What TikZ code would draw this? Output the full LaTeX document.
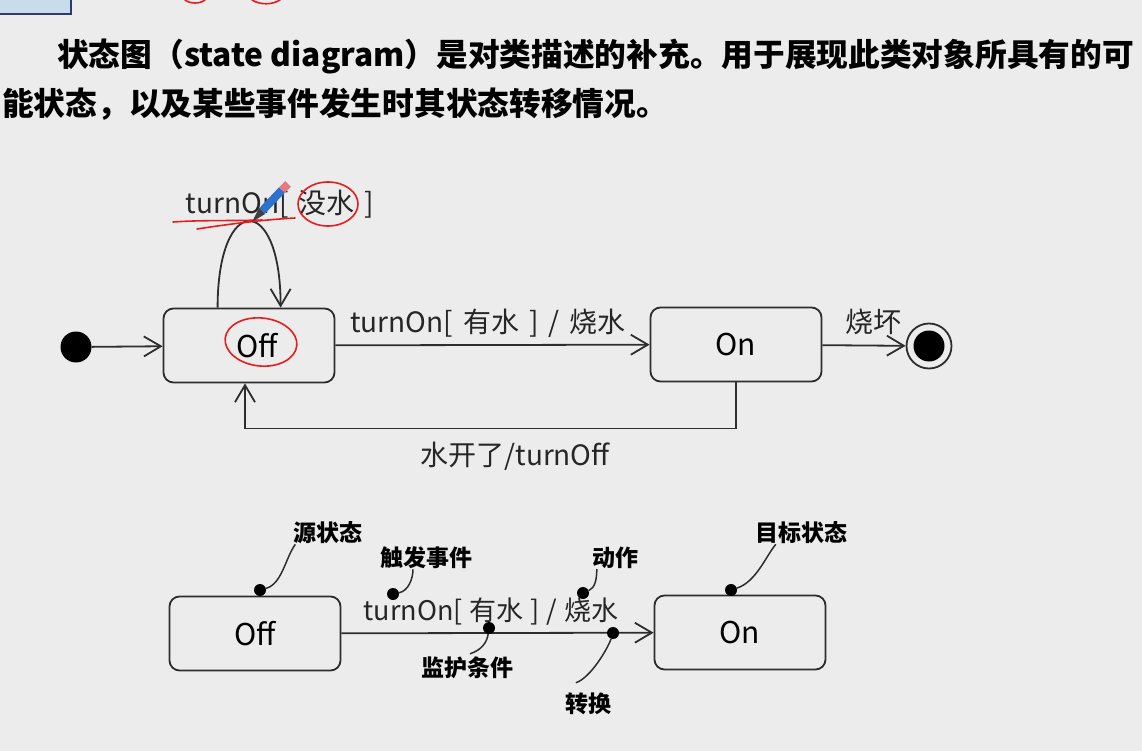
\documentclass[tikz,border=0pt]{standalone}
\usepackage{fontspec}
\setmainfont{Noto Sans CJK SC}
\usetikzlibrary{arrows.meta,positioning}
\definecolor{cBg}{RGB}{236,236,236}
\definecolor{cLine}{RGB}{45,45,45}
\definecolor{cPen}{RGB}{228,30,30}
\definecolor{cPencil}{RGB}{45,115,205}
\definecolor{cRubber}{RGB}{230,120,130}
\definecolor{cTab}{RGB}{200,220,236}
\definecolor{cTabEdge}{RGB}{40,60,110}
\newcommand{\gap}{\hspace{10pt}}
\newcommand{\sgap}{\hspace{7pt}}

\begin{document}
\begin{tikzpicture}[x=1pt,y=-1pt,
   st/.style={draw=cLine,line width=1.8pt,rounded corners=10pt,minimum width=171pt,minimum height=74pt,inner sep=0pt,font=\fontsize{30}{34}\selectfont},
   a/.style={draw=cLine,line width=1.8pt,-{Straight Barb[length=17pt,width=20pt,line width=1.8pt]}},
   ln/.style={draw=cLine,line width=1.5pt},
   lbl/.style={font=\fontsize{28}{32}\selectfont,inner sep=0pt,text=black!85},
   note/.style={font=\bfseries\fontsize{23}{26}\selectfont,inner sep=0pt},
   para/.style={font=\bfseries\fontsize{31.7}{38}\selectfont,inner sep=0pt,anchor=west},
   pt/.style={circle,fill=black,inner sep=0pt,minimum size=12pt},
   pen/.style={draw=cPen,line width=1.6pt,line cap=round}]
  \fill[cBg] (0,0) rectangle (1142,751);
  \useasboundingbox (0,0) rectangle (1142,751);
  % cut-off bits at the top edge
  \fill[cTab] (0,0) rectangle (71,14);
  \draw[cTabEdge,line width=1.5pt] (71,0) -- (71,14) -- (0,14);
  \draw[pen] (185,0) .. controls (190,4) and (200,4) .. (205,0);
  \draw[pen] (252,0) .. controls (260,5) and (272,5) .. (280,0);
  % text
  \node[para] (p1) at (57,57) {状态图（state diagram）是对类描述的补充。用于展现此类对象所具有的可};
  \node[para] (p2) at (2,104) {能状态，以及某些事件发生时其状态转移情况。};
  % upper diagram
  \node[circle,fill=black,inner sep=0pt,minimum size=31pt] (ini) at (76,347) {};
  \node[st] (off) at (249,345.5) {\hspace*{16pt}Off};
  \node[st] (on) at (736,344.5) {On};
  \node[circle,draw=cLine,line width=1.8pt,inner sep=0pt,minimum size=45pt] (fin) at (929,346) {};
  \node[circle,fill=black,inner sep=0pt,minimum size=31pt] at (fin) {};
  \draw[a] (ini) -- (off);
  \draw[a] (off) -- (on);
  \draw[a] (on) -- (fin);
  \draw[a] ([xshift=55pt]off.north west) .. controls +(0,-115) and +(0,-115) .. ([xshift=118pt]off.north west);
  \draw[a] (on.south) |- ([xshift=-4pt,yshift=-45pt]off.south) -- ([xshift=-4pt]off.south);
  \node[lbl] (tself) at (280,204) {turnOn[\gap{}没水\gap{}]};
  \node[lbl] (ton) at (488,323) {turnOn[\gap{}有水\gap{}]\gap{}/\gap{}烧水};
  \node[lbl] (tburn) at (873,322) {烧坏};
  \node[lbl] (toff) at (515,456) {水开了/turnOff};
  % pen marks
  \draw[pen] (173,222) .. controls (200,220) and (230,221) .. (262,220);
  \draw[pen] (197,229) .. controls (230,224) and (260,220) .. (295,218);
  \draw[pen] (328,204) ellipse [x radius=30, y radius=22];
  \draw[pen,rotate around={-6:(261,342)}] (261,342) ellipse [x radius=36, y radius=24];
  \draw[cPencil,line width=8pt] (262,211) -- (282,190);
  \draw[cRubber,line width=8pt] (282,190) -- (288,184);
  \fill[black!75] (252,222) -- (259,208) -- (265,214) -- cycle;
  % lower diagram
  \node[st] (off2) at (255,633.5) {Off};
  \node[st] (on2) at (740,632.5) {On};
  \draw[a] (off2) -- (on2);
  \node[lbl,font=\fontsize{27}{30}\selectfont] (ton2) at (491,612) {turnOn[\sgap{}有水\sgap{}]\sgap{}/\sgap{}烧水};
  \node[pt] (dsrc) at (260,590) {};
  \node[pt] (dtrg) at (393,594) {};
  \node[pt] (dgrd) at (489,628) {};
  \node[pt] (dact) at (583,593) {};
  \node[pt] (dtr) at (613,633) {};
  \node[pt] (ddst) at (731,590) {};
  \node[note] (nsrc) at (328,533) {源状态};
  \node[note] (ntrg) at (426,558) {触发事件};
  \node[note] (ngrd) at (467,668) {监护条件};
  \node[note] (nact) at (615,558) {动作};
  \node[note] (ntr) at (588,704) {转换};
  \node[note] (ndst) at (801,533) {目标状态};
  \draw[ln] (dsrc) .. controls +(22,-6) and +(-10,14) .. ([xshift=2pt]nsrc.south west);
  \draw[ln] (dtrg) .. controls +(15,-3) and +(0,10) .. ([xshift=-13pt]ntrg.south);
  \draw[ln] (dgrd) .. controls +(-2,14) and +(12,-4) .. ([xshift=3pt,yshift=3pt]ngrd.north);
  \draw[ln] (dact) .. controls +(12,-5) and +(0,10) .. ([xshift=5pt]nact.south west);
  \draw[ln] (dtr) .. controls +(-5,15) and +(15,-5) .. ([xshift=11pt,yshift=10pt]ntr.north west);
  \draw[ln] (ddst) .. controls +(25,-8) and +(-10,12) .. ([xshift=21pt]ndst.south west);
\end{tikzpicture}
\end{document}
